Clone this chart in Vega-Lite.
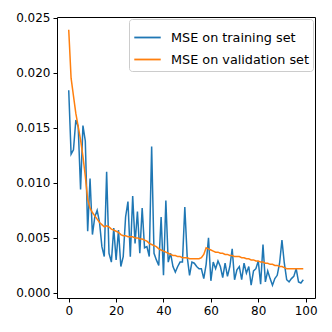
{
  "$schema": "https://vega.github.io/schema/vega-lite/v6.json",
  "autosize": {"type": "none"},
  "width": 258,
  "height": 281,
  "padding": {"left": 57, "top": 17, "right": 17, "bottom": 34},
  "background": "white",
  "config": {
    "font": "DejaVu Sans",
    "view": {"stroke": "black", "strokeWidth": 1},
    "axis": {
      "grid": false, "domain": false, "tickColor": "black", "tickSize": 4, "tickWidth": 1,
      "labelFont": "DejaVu Sans", "labelFontSize": 12, "labelColor": "black", "labelPadding": 3, "title": null
    }
  },
  "data": {"values": [
    {"epoch":0,"train":0.0184,"val":0.0239},{"epoch":1,"train":0.0126,"val":0.0195},{"epoch":2,"train":0.0130,"val":0.0179},{"epoch":3,"train":0.0157,"val":0.0163},{"epoch":4,"train":0.0151,"val":0.0151},
    {"epoch":5,"train":0.0094,"val":0.0139},{"epoch":6,"train":0.0152,"val":0.0124},{"epoch":7,"train":0.0138,"val":0.0106},{"epoch":8,"train":0.0056,"val":0.0085},{"epoch":9,"train":0.0104,"val":0.0077},
    {"epoch":10,"train":0.0053,"val":0.0073},{"epoch":11,"train":0.0069,"val":0.0070},{"epoch":12,"train":0.0075,"val":0.0067},{"epoch":13,"train":0.0064,"val":0.0064},{"epoch":14,"train":0.0042,"val":0.0062},
    {"epoch":15,"train":0.0033,"val":0.0060},{"epoch":16,"train":0.0110,"val":0.0061},{"epoch":17,"train":0.0036,"val":0.0060},{"epoch":18,"train":0.0028,"val":0.0058},{"epoch":19,"train":0.0059,"val":0.0057},
    {"epoch":20,"train":0.0030,"val":0.0056},{"epoch":21,"train":0.0057,"val":0.0055},{"epoch":22,"train":0.0024,"val":0.0053},{"epoch":23,"train":0.0033,"val":0.0052},{"epoch":24,"train":0.0069,"val":0.0052},
    {"epoch":25,"train":0.0083,"val":0.0051},{"epoch":26,"train":0.0033,"val":0.0051},{"epoch":27,"train":0.0088,"val":0.0051},{"epoch":28,"train":0.0045,"val":0.0050},{"epoch":29,"train":0.0074,"val":0.0050},
    {"epoch":30,"train":0.0036,"val":0.0049},{"epoch":31,"train":0.0077,"val":0.0049},{"epoch":32,"train":0.0041,"val":0.0048},{"epoch":33,"train":0.0042,"val":0.0047},{"epoch":34,"train":0.0033,"val":0.0045},
    {"epoch":35,"train":0.0133,"val":0.0044},{"epoch":36,"train":0.0036,"val":0.0043},{"epoch":37,"train":0.0030,"val":0.0042},{"epoch":38,"train":0.0025,"val":0.0040},{"epoch":39,"train":0.0069,"val":0.0039},
    {"epoch":40,"train":0.0016,"val":0.0038},{"epoch":41,"train":0.0084,"val":0.0037},{"epoch":42,"train":0.0028,"val":0.0036},{"epoch":43,"train":0.0036,"val":0.0035},{"epoch":44,"train":0.0024,"val":0.0034},
    {"epoch":45,"train":0.0019,"val":0.0034},{"epoch":46,"train":0.0024,"val":0.0033},{"epoch":47,"train":0.0028,"val":0.0033},{"epoch":48,"train":0.0028,"val":0.0032},{"epoch":49,"train":0.0078,"val":0.0032},
    {"epoch":50,"train":0.0033,"val":0.0032},{"epoch":51,"train":0.0016,"val":0.0031},{"epoch":52,"train":0.0028,"val":0.0031},{"epoch":53,"train":0.0027,"val":0.0031},{"epoch":54,"train":0.0024,"val":0.0031},
    {"epoch":55,"train":0.0022,"val":0.0031},{"epoch":56,"train":0.0022,"val":0.0032},{"epoch":57,"train":0.0013,"val":0.0035},{"epoch":58,"train":0.0026,"val":0.0041},{"epoch":59,"train":0.0050,"val":0.0040},
    {"epoch":60,"train":0.0011,"val":0.0039},{"epoch":61,"train":0.0028,"val":0.0038},{"epoch":62,"train":0.0022,"val":0.0037},{"epoch":63,"train":0.0029,"val":0.0037},{"epoch":64,"train":0.0024,"val":0.0036},
    {"epoch":65,"train":0.0014,"val":0.0036},{"epoch":66,"train":0.0027,"val":0.0035},{"epoch":67,"train":0.0015,"val":0.0035},{"epoch":68,"train":0.0024,"val":0.0034},{"epoch":69,"train":0.0040,"val":0.0034},
    {"epoch":70,"train":0.0012,"val":0.0033},{"epoch":71,"train":0.0021,"val":0.0033},{"epoch":72,"train":0.0024,"val":0.0033},{"epoch":73,"train":0.0012,"val":0.0032},{"epoch":74,"train":0.0027,"val":0.0032},
    {"epoch":75,"train":0.0018,"val":0.0031},{"epoch":76,"train":0.0024,"val":0.0031},{"epoch":77,"train":0.0007,"val":0.0030},{"epoch":78,"train":0.0020,"val":0.0030},{"epoch":79,"train":0.0022,"val":0.0029},
    {"epoch":80,"train":0.0029,"val":0.0029},{"epoch":81,"train":0.0008,"val":0.0028},{"epoch":82,"train":0.0044,"val":0.0028},{"epoch":83,"train":0.0010,"val":0.0027},{"epoch":84,"train":0.0020,"val":0.0027},
    {"epoch":85,"train":0.0013,"val":0.0026},{"epoch":86,"train":0.0007,"val":0.0026},{"epoch":87,"train":0.0013,"val":0.0025},{"epoch":88,"train":0.0016,"val":0.0025},{"epoch":89,"train":0.0027,"val":0.0024},
    {"epoch":90,"train":0.0048,"val":0.0024},{"epoch":91,"train":0.0027,"val":0.0023},{"epoch":92,"train":0.0012,"val":0.0022},{"epoch":93,"train":0.0010,"val":0.0022},{"epoch":94,"train":0.0013,"val":0.0022},
    {"epoch":95,"train":0.0015,"val":0.0022},{"epoch":96,"train":0.0022,"val":0.0022},{"epoch":97,"train":0.0010,"val":0.0022},{"epoch":98,"train":0.0009,"val":0.0022},{"epoch":99,"train":0.0012,"val":0.0022}
  ]},
  "transform": [
    {"fold": ["train", "val"], "as": ["key", "mse"]},
    {"lookup": "key", "from": {"data": {"values": [{"key": "train", "label": "MSE on training set"}, {"key": "val", "label": "MSE on validation set"}]}, "key": "key", "fields": ["label"]}}
  ],
  "mark": {"type": "line", "strokeWidth": 1.5, "clip": true},
  "encoding": {
    "x": {"field": "epoch", "type": "quantitative", "scale": {"domain": [-4.95, 103.95], "nice": false, "zero": false},
      "axis": {"values": [0, 20, 40, 60, 80, 100]}},
    "y": {"field": "mse", "type": "quantitative", "scale": {"domain": [-0.00046, 0.02506], "nice": false, "zero": false},
      "axis": {"values": [0, 0.005, 0.01, 0.015, 0.02, 0.025], "format": ".3f"}},
    "color": {"field": "label", "type": "nominal",
      "scale": {"domain": ["MSE on training set", "MSE on validation set"], "range": ["#1f77b4", "#ff7f0e"]},
      "legend": {"title": null, "orient": "top-right", "offset": 2, "padding": 4,
        "strokeColor": "#cccccc", "fillColor": "rgba(255,255,255,0.8)", "cornerRadius": 3,
        "symbolType": "stroke", "symbolSize": 700, "symbolStrokeWidth": 1.8,
        "labelFontSize": 12.8, "labelColor": "black", "labelOffset": 9, "rowPadding": -10}},
    "order": {"field": "key"}
  }
}
